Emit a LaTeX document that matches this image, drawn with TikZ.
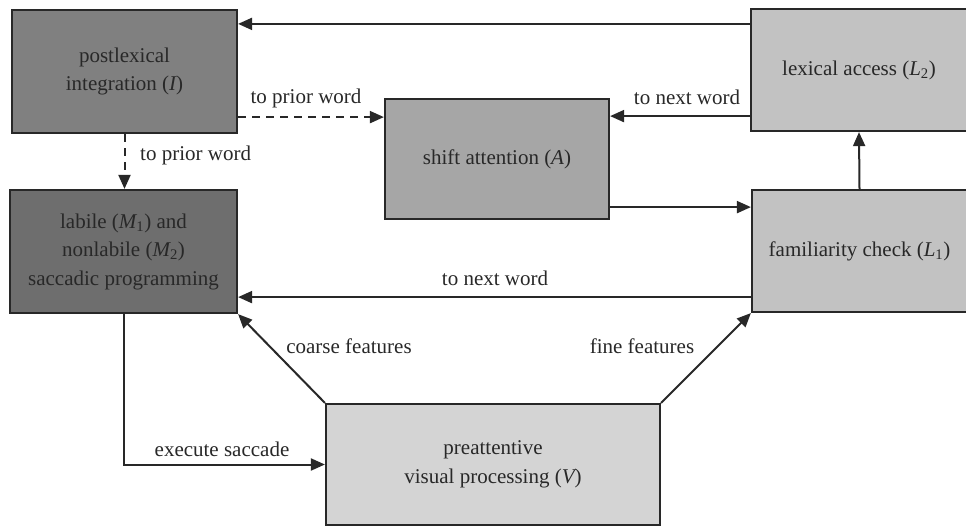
\documentclass[tikz,border=0pt]{standalone}
\usepackage{fontspec}
\setmainfont{Liberation Serif}
\usetikzlibrary{arrows.meta}
\definecolor{cI}{RGB}{128,128,128}
\definecolor{cM}{RGB}{110,110,110}
\definecolor{cA}{RGB}{166,166,166}
\definecolor{cL}{RGB}{194,194,194}
\definecolor{cV}{RGB}{212,212,212}
\definecolor{ink}{RGB}{40,40,40}
\begin{document}
\begin{tikzpicture}[x=1pt,y=-1pt,
  box/.style={draw=ink, line width=2.2pt, inner sep=0pt, align=center,
    font=\fontsize{21}{28.5}\selectfont, text=ink},
  conn/.style={line width=2pt, draw=ink, -{Triangle[length=14pt,width=12pt]}},
  dconn/.style={conn, dash pattern=on 8pt off 6pt},
  lbl/.style={font=\fontsize{21}{25}\selectfont, text=ink, inner sep=0pt}]
\useasboundingbox (0,0) rectangle (966,529);
\fill[white] (0,0) rectangle (966,529);
\node[box, fill=cI, minimum width=225pt, minimum height=123pt] (I) at (124.5,71.5)
  {postlexical\\integration ({\itshape I})};
\node[box, fill=cM, minimum width=227pt, minimum height=123pt] (M) at (123.5,251.5)
  {labile ({\itshape M}\textsubscript{1}) and\\nonlabile ({\itshape M}\textsubscript{2})\\saccadic programming};
\node[box, fill=cA, minimum width=224pt, minimum height=120pt] (A) at (497,159)
  {shift attention ({\itshape A})};
\node[box, fill=cL, minimum width=216pt, minimum height=122pt] (L2) at (859,70)
  {lexical access ({\itshape L}\textsubscript{2})};
\node[box, fill=cL, minimum width=215pt, minimum height=122pt] (L1) at (859.5,251)
  {familiarity check ({\itshape L}\textsubscript{1})};
\node[box, fill=cV, minimum width=334pt, minimum height=121pt] (V) at (493,464.5)
  {preattentive\\visual processing ({\itshape V})};

\draw[conn] ([yshift=-16pt]L2.north west) coordinate (p1) -- (I.east |- p1);
\draw[conn] ([yshift=16pt]L2.south west) coordinate (p2) -- (A.east |- p2);
\draw[dconn] ([yshift=17pt]I.south east) coordinate (p3) -- (A.west |- p3);
\draw[dconn] (I.south) -- (I.south |- M.north);
\draw[conn] ([yshift=13pt]A.south east) coordinate (p4) -- (L1.west |- p4);
\draw[conn] (L1.north) -- (L2.south);
\draw[conn] ([yshift=16pt]L1.south west) coordinate (p5) -- (M.east |- p5);
\draw[conn] (V.north west) -- (M.south east);
\draw[conn] (V.north east) -- (L1.south west);
\draw[conn] (M.south) |- (V.west);

\node[lbl] (t1) at (687,97) {to next word};
\node[lbl] (t2) at (306,98) {to prior word};
\node[lbl, anchor=west] (t3) at (140,155) {to prior word};
\node[lbl] (t4) at (495,278) {to next word};
\node[lbl] (t5) at (349,346) {coarse features};
\node[lbl] (t6) at (642,346) {fine features};
\node[lbl] (t7) at (222,449) {execute saccade};
\end{tikzpicture}
\end{document}
